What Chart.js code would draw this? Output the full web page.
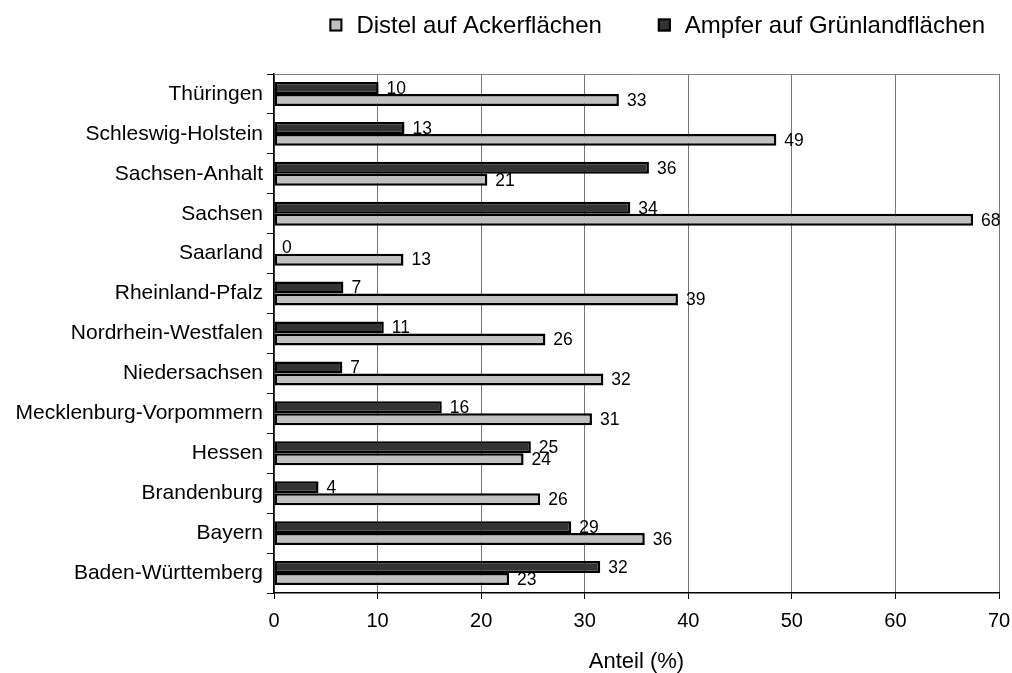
<!DOCTYPE html>
<html>
<head>
<meta charset="utf-8">
<script src="https://cdn.jsdelivr.net/npm/chart.js@4"></script>
<style>
  body { margin: 0; background: #fff; overflow: hidden; }
  #wrap { width: 1012px; height: 673px; }
</style>
</head>
<body>
<div id="wrap"><canvas id="chart"></canvas></div>
<script>
const categories = [
  "Thüringen", "Schleswig-Holstein", "Sachsen-Anhalt", "Sachsen", "Saarland",
  "Rheinland-Pfalz", "Nordrhein-Westfalen", "Niedersachsen",
  "Mecklenburg-Vorpommern", "Hessen", "Brandenburg", "Bayern", "Baden-Württemberg"
];
const ampferValues = [10.1, 12.6, 36.2, 34.4, 0, 6.7, 10.6, 6.6, 16.2, 24.8, 4.3, 28.7, 31.5];
const distelValues = [33.3, 48.5, 20.6, 67.5, 12.5, 39.0, 26.2, 31.8, 30.7, 24.1, 25.7, 35.8, 22.7];
const xTicks = [0, 10, 20, 30, 40, 50, 60, 70];

const FONT = "'Liberation Sans', Arial, Helvetica, sans-serif";
Chart.defaults.font.family = FONT;
Chart.defaults.color = "#000";

// value labels sit under the bars, like in the original
const valueLabels = {
  id: "valueLabels",
  beforeDatasetsDraw(chart) {
    const ctx = chart.ctx;
    ctx.save();
    ctx.font = "17.5px " + FONT;
    ctx.fillStyle = "#000";
    ctx.textAlign = "left";
    ctx.textBaseline = "middle";
    chart.data.datasets.forEach((ds, i) => {
      chart.getDatasetMeta(i).data.forEach((bar, j) => {
        ctx.fillText(String(Math.round(ds.data[j])), bar.x + 8, bar.y + 1);
      });
    });
    // top frame line
    const a = chart.chartArea;
    ctx.strokeStyle = "#808080";
    ctx.lineWidth = 1;
    ctx.beginPath();
    ctx.moveTo(a.left, a.top + 0.5);
    ctx.lineTo(a.right, a.top + 0.5);
    ctx.stroke();
    ctx.restore();
  }
};

// legend: Distel first, then Ampfer, right aligned above the plot
const topLegend = {
  id: "topLegend",
  afterDraw(chart) {
    const ctx = chart.ctx;
    const items = chart.data.datasets.slice().reverse();
    const box = 13, gap = 14, spacing = 56, right = 985, cy = 25;
    ctx.save();
    ctx.font = "24px " + FONT;
    ctx.textBaseline = "middle";
    ctx.textAlign = "left";
    let total = 0;
    items.forEach((ds, i) => {
      total += box + gap + ctx.measureText(ds.label).width + (i ? spacing : 0);
    });
    let x = right - total;
    items.forEach((ds) => {
      ctx.fillStyle = ds.backgroundColor;
      ctx.fillRect(x, cy - box / 2, box, box);
      ctx.strokeStyle = "#000";
      ctx.lineWidth = 2;
      ctx.strokeRect(x + 1, cy - box / 2 + 1, box - 2, box - 2);
      ctx.fillStyle = "#000";
      ctx.fillText(ds.label, x + box + gap, cy + 1);
      x += box + gap + ctx.measureText(ds.label).width + spacing;
    });
    ctx.restore();
  }
};

new Chart(document.getElementById("chart"), {
  type: "bar",
  data: {
    labels: categories,
    datasets: [
      {
        label: "Ampfer auf Grünlandflächen",
        data: ampferValues,
        backgroundColor: "#333333",
        borderColor: "#000",
        borderWidth: 2.5,
        borderSkipped: false
      },
      {
        label: "Distel auf Ackerflächen",
        data: distelValues,
        backgroundColor: "#c0c0c0",
        borderColor: "#000",
        borderWidth: 2.5,
        borderSkipped: false
      }
    ]
  },
  options: {
    indexAxis: "y",
    responsive: true,
    maintainAspectRatio: false,
    animation: false,
    categoryPercentage: 0.6,
    barPercentage: 1,
    layout: { padding: { top: 74, right: 13, left: 0, bottom: 0 } },
    plugins: {
      legend: { display: false },
      tooltip: { enabled: false }
    },
    scales: {
      x: {
        min: 0,
        max: 70,
        afterBuildTicks(scale) {
          scale.ticks = xTicks.map((v) => ({ value: v }));
        },
        ticks: { color: "#000", font: { size: 20 }, padding: 10 },
        grid: { color: "#777777", tickColor: "#000", tickLength: 6, lineWidth: 1 },
        border: { color: "#000", width: 1.5 },
        title: {
          display: true,
          text: "Anteil (%)",
          color: "#000",
          font: { size: 22, lineHeight: 1 },
          padding: 0
        },
        afterFit(scale) {
          scale.height = 80;
          scale.paddingLeft = 0;
          scale.paddingRight = 0;
        }
      },
      y: {
        ticks: { color: "#000", font: { size: 21 }, padding: 4 },
        grid: { drawOnChartArea: false, color: "#000", tickLength: 7, offset: true },
        border: { color: "#000", width: 1.5 },
        afterFit(scale) {
          scale.width = 274;
          scale.paddingTop = 0;
          scale.paddingBottom = 0;
        }
      }
    }
  },
  plugins: [valueLabels, topLegend]
});
</script>
</body>
</html>
